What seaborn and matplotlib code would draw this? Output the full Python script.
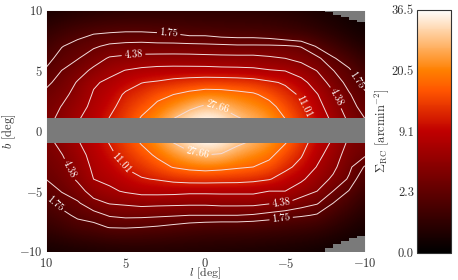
import numpy as np
import matplotlib
matplotlib.use("Agg")
import matplotlib.pyplot as plt
import seaborn as sns
from matplotlib.colors import PowerNorm

# surface density per longitude, rows run b = 10 ... -10
sigma_l10 = [.15, .35, .65, 1.0, 1.4, 1.85, 2.5, 3.05, 3.4, 3.7, 3.8, 3.7, 3.4, 3.05, 2.77, 2.0, 1.4, 1.0, .65, .3, .1]
sigma_l9 = [.2, .55, 1.05, 1.7, 2.2, 2.77, 3.25, 3.8, 4.45, 5.0, 5.2, 5.0, 4.3, 3.8, 3.3, 2.85, 2.1, 1.45, .9, .4, .14]
sigma_l8 = [.25, .7, 1.45, 2.2, 2.7, 3.6, 4.55, 5.2, 5.9, 6.7, 7.0, 6.7, 5.9, 5.3, 4.7, 3.6, 2.6, 2.0, 1.3, .5, .18]
sigma_l7 = [.3, .85, 1.75, 2.6, 3.56, 4.8, 6.6, 7.2, 7.7, 8.3, 8.6, 8.6, 8.0, 7.5, 6.95, 5.4, 3.8, 2.3, 1.45, .6, .2]
sigma_l6 = [.35, .95, 1.9, 3.03, 4.6, 6.2, 7.5, 8.7, 9.9, 11.2, 11.8, 11.2, 10.0, 8.8, 7.7, 6.4, 4.5, 2.9, 1.8, .7, .22]
sigma_l5 = [.4, 1.0, 2.0, 3.18, 4.9, 7.0, 9.2, 11.7, 13.0, 14.0, 14.5, 14.2, 13.0, 11.3, 9.1, 7.3, 4.7, 3.1, 1.85, .75, .24]
sigma_l4 = [.43, 1.0, 2.0, 3.25, 5.1, 7.6, 10.9, 13.0, 15.7, 18.0, 19.0, 17.9, 15.4, 12.9, 10.7, 8.0, 5.0, 3.1, 1.75, .75, .26]
sigma_l3 = [.45, .98, 1.9, 3.2, 5.2, 7.97, 11.5, 16.2, 18.5, 22.0, 24.0, 22.0, 18.5, 15.3, 11.3, 8.1, 4.9, 3.0, 1.65, .7, .26]
sigma_l2 = [.46, .95, 1.8, 3.23, 5.2, 8.1, 12.6, 17.45, 22.0, 27.66, 30.0, 27.66, 22.2, 17.8, 12.3, 8.0, 4.85, 2.9, 1.5, .65, .26]
sigma_l1 = [.46, .9, 1.6, 3.23, 5.15, 8.1, 13.4, 19.3, 25.7, 33.0, 35.0, 33.0, 25.5, 19.2, 13.0, 7.7, 4.8, 2.77, 1.35, .6, .25]
sigma_l0 = [.45, .85, 1.6, 3.15, 5.08, 8.09, 13.9, 20.8, 29.0, 36.0, 38.0, 36.0, 27.66, 20.0, 13.1, 7.7, 4.8, 2.77, 1.25, .55, .24]
sigma_m1 = [.44, .85, 1.45, 3.1, 5.0, 7.9, 13.9, 20.4, 26.9, 34.0, 36.0, 34.0, 27.0, 19.3, 12.9, 7.7, 5.0, 2.77, 1.2, .52, .22]
sigma_m2 = [.42, .8, 1.4, 3.0, 5.0, 7.8, 13.6, 19.3, 23.9, 28.5, 30.0, 29.5, 23.3, 18.2, 12.8, 7.7, 5.0, 2.77, 1.2, .5, .2]
sigma_m3 = [.4, .78, 1.4, 3.0, 5.0, 7.6, 13.0, 18.3, 21.8, 25.5, 27.0, 26.0, 21.0, 17.45, 12.2, 7.7, 5.0, 2.65, 1.15, .48, .18]
sigma_m4 = [.35, .72, 1.3, 3.0, 4.7, 7.1, 11.7, 15.7, 19.5, 22.6, 23.5, 22.5, 19.0, 15.5, 11.3, 6.94, 4.55, 2.4, 1.05, .42, .15]
sigma_m5 = [.3, .62, 1.1, 2.94, 4.38, 6.8, 10.5, 12.7, 15.1, 17.45, 18.3, 17.8, 14.6, 12.1, 9.3, 6.94, 4.38, 2.1, .95, .38, .13]
sigma_m6 = [.22, .5, .95, 2.7, 3.82, 5.6, 8.0, 10.4, 11.7, 13.0, 13.6, 13.0, 11.4, 9.8, 7.5, 5.5, 3.5, 1.9, .85, .32, .1]
sigma_m7 = [.15, .33, .65, 1.65, 3.1, 4.3, 5.6, 7.1, 8.2, 9.2, 9.7, 8.9, 7.9, 6.8, 5.5, 4.38, 2.9, 1.65, .7, .25, .07]
sigma_m8 = [.1, .2, .42, .95, 1.9, 2.8, 3.7, 4.7, 5.4, 6.3, 6.6, 6.5, 5.6, 4.9, 4.06, 2.77, 1.75, .95, .45, .15, .05]
sigma_m9 = [.05, .09, .2, .5, 1.15, 1.95, 2.35, 2.9, 3.4, 4.0, 4.2, 4.0, 3.5, 3.1, 2.6, 1.7, 1.05, .55, .25, .1, .03]
sigma_m10 = [.03, .05, .1, .22, .5, .9, 1.4, 1.95, 2.25, 2.77, 2.9, 3.3, 3.0, 1.65, 1.1, .75, .45, .25, .12, .05, .02]

l_values = [10, 9, 8, 7, 6, 5, 4, 3, 2, 1, 0, -1, -2, -3, -4, -5, -6, -7, -8, -9, -10]
b_values = [10, 9, 8, 7, 6, 5, 4, 3, 2, 1, 0, -1, -2, -3, -4, -5, -6, -7, -8, -9, -10]

plain_levels = [2.77, 6.94, 17.45]
labelled_levels = [1.75, 4.38, 11.01, 27.66]
label_spots = [(2.3, 8.0), (4.5, 6.3), (-0.8, 2.1), (-6.2, 2.0), (-8.3, 2.8), (-9.6, 4.3),
               (0.5, -1.85), (5.5, -2.9), (8.8, -3.4), (9.5, -6.2), (-4.75, -6.1), (-4.75, -7.3)]

# no-data corners on the negative longitude side
mask_l = [-7, -7.5, -8, -8.5, -9, -9.5, -10]
mask_top = [9.95, 9.8, 9.6, 9.4, 9.2, 9.0, 8.8]
mask_bottom = [-10, -9.7, -9.4, -9.1, -8.85, -8.7, -8.5]

cbar_ticks = [0.0, 2.28, 9.1, 20.5, 36.5]
cbar_labels = ["0.0", "2.3", "9.1", "20.5", "36.5"]
cbar_minor = [0.57, 5.13, 14.26, 27.95]

sns.set_style("ticks")
plt.rcParams["font.family"] = ["cmr10", "DejaVu Sans"]
plt.rcParams["mathtext.fontset"] = "cm"
plt.rcParams["axes.formatter.use_mathtext"] = True
plt.rcParams["axes.unicode_minus"] = True
plt.rcParams["text.color"] = "#333333"
plt.rcParams["axes.labelcolor"] = "#333333"
plt.rcParams["xtick.labelcolor"] = "#333333"
plt.rcParams["ytick.labelcolor"] = "#333333"

sigma = np.column_stack([sigma_l10, sigma_l9, sigma_l8, sigma_l7, sigma_l6, sigma_l5, sigma_l4,
                         sigma_l3, sigma_l2, sigma_l1, sigma_l0, sigma_m1, sigma_m2, sigma_m3,
                         sigma_m4, sigma_m5, sigma_m6, sigma_m7, sigma_m8, sigma_m9, sigma_m10])

W, H = 458, 280
fig = plt.figure(figsize=(W / 100, H / 100), dpi=100)
ax = fig.add_axes([45.7 / W, 1 - 251.5 / H, 319.3 / W, 241.5 / H])
cax = fig.add_axes([416.7 / W, 1 - 252.7 / H, 34.3 / W, 243.2 / H])

cmap = sns.color_palette("gist_heat", as_cmap=True)
norm = PowerNorm(0.5, vmin=0, vmax=36.5)
im = ax.imshow(sigma, extent=(10.5, -10.5, -10.5, 10.5), origin="upper", aspect="auto",
               cmap=cmap, norm=norm, interpolation="bicubic", zorder=1)

# contour in log so the 1 degree table does not bias the crossings
ax.contour(l_values, b_values, np.log10(sigma), levels=np.log10(plain_levels),
           colors="#f2dcdc", linewidths=0.7, zorder=2)
# labelled levels go in their own set, clabel manual breaks on a subset of levels
cs = ax.contour(l_values, b_values, np.log10(sigma), levels=np.log10(labelled_levels),
                colors="#f2dcdc", linewidths=0.7, zorder=2)
fmt = {lev: f"{10 ** lev:.2f}" for lev in cs.levels}
ax.clabel(cs, fmt=fmt, fontsize=7.5, colors="white",
          inline=True, inline_spacing=2, manual=label_spots)

gray = "#7a7a7a"
ax.axhspan(-1.04, 1.04, color=gray, lw=0, zorder=4)
ax.fill_between(mask_l, mask_top, 10, step="post", color=gray, lw=0, zorder=4)
ax.fill_between(mask_l, mask_bottom, -10, step="post", color=gray, lw=0, zorder=4)

ax.set_xlim(10, -10)
ax.set_ylim(-10, 10)
ax.set_xticks([10, 5, 0, -5, -10])
ax.set_yticks([-10, -5, 0, 5, 10])
ax.set_xticks(np.arange(-10, 11), minor=True)
ax.set_yticks(np.arange(-10, 11), minor=True)
ax.tick_params(which="major", direction="in", length=5, width=0.7, color="white",
               top=True, right=True, labelsize=9, pad=2)
ax.tick_params(axis="x", which="major", pad=4)
ax.tick_params(which="minor", direction="in", length=2.5, width=0.6, color="white",
               top=True, right=True)
for s in ax.spines.values():
    s.set_color("white")
    s.set_linewidth(0.7)
    s.set_zorder(5)
ax.set_xlabel(r"$l$ [deg]", fontsize=8.5)
ax.set_ylabel(r"$b$ [deg]", fontsize=9)
ax.xaxis.set_label_coords(0.5, -0.06)
ax.yaxis.set_label_coords(-0.087, 0.5)

cb = fig.colorbar(im, cax=cax)
cb.set_ticks(cbar_ticks)
cb.set_ticklabels(cbar_labels)
cb.set_ticks(cbar_minor, minor=True)
cax.yaxis.set_ticks_position("both")
cax.yaxis.set_label_position("left")
cax.tick_params(which="major", direction="in", length=5, width=0.7, color="#222222",
                left=True, right=True, labelleft=True, labelright=False, labelsize=9, pad=2)
cax.tick_params(which="minor", direction="in", length=2.5, width=0.6, color="#222222",
                left=True, right=True)
cb.outline.set_edgecolor("#333333")
cb.outline.set_linewidth(0.8)
cb.set_label(r"$\Sigma_{\rm RC}$ [arcmin$^{-2}$]", fontsize=9)
cax.yaxis.set_label_coords(-0.75, 0.5)

fig.savefig("out.png", dpi=100)
